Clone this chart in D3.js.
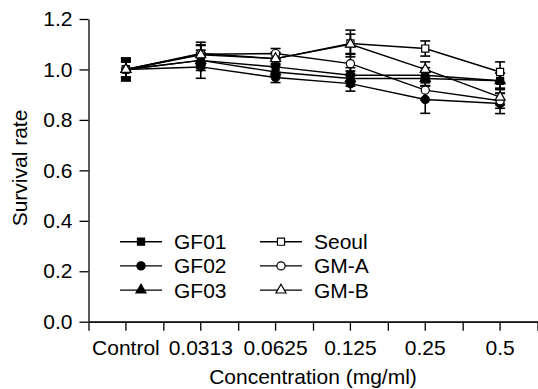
<!DOCTYPE html>
<html>
<head>
<meta charset="utf-8">
<script src="https://cdn.jsdelivr.net/npm/d3@7"></script>
<style>
  body { margin: 0; background: #fff; }
  text { font-family: Arial, "Liberation Sans", sans-serif; fill: #000; }
</style>
</head>
<body>
<div id="chart"></div>
<script>
var width = 538;
var height = 389;

// data
var concentrations = ["Control", "0.0313", "0.0625", "0.125", "0.25", "0.5"];
var seriesNames = ["GF01", "GF02", "GF03", "Seoul", "GM-A", "GM-B"];
var gf01 = [1.00, 1.036, 1.010, 0.977, 0.977, 0.955];
var gf02 = [1.00, 1.010, 0.968, 0.944, 0.881, 0.865];
var gf03 = [1.00, 1.036, 0.990, 0.964, 0.964, 0.955];
var seoul = [1.00, 1.063, 1.043, 1.103, 1.083, 0.990];
var gmA = [1.00, 1.060, 1.063, 1.023, 0.918, 0.876];
var gmB = [1.00, 1.058, 1.043, 1.100, 1.000, 0.890];
var gf01Err = [0.03, 0.04, 0.03, 0.03, 0.03, 0.03];
var gf02Err = [0.045, 0.045, 0.02, 0.03, 0.055, 0.04];
var gf03Err = [0.03, 0.03, 0.02, 0.03, 0.03, 0.03];
var seoulErr = [0.045, 0.045, 0.02, 0.053, 0.03, 0.04];
var gmAErr = [0.04, 0.035, 0.02, 0.04, 0.04, 0.03];
var gmBErr = [0.035, 0.04, 0.025, 0.04, 0.03, 0.03];
var yTicks = [0, 0.2, 0.4, 0.6, 0.8, 1.0, 1.2];

var series = [
  {name: seriesNames[0], values: gf01, err: gf01Err, shape: d3.symbolSquare, fill: "#000"},
  {name: seriesNames[1], values: gf02, err: gf02Err, shape: d3.symbolCircle, fill: "#000"},
  {name: seriesNames[2], values: gf03, err: gf03Err, shape: d3.symbolTriangle, fill: "#000"},
  {name: seriesNames[3], values: seoul, err: seoulErr, shape: d3.symbolSquare, fill: "#fff"},
  {name: seriesNames[4], values: gmA, err: gmAErr, shape: d3.symbolCircle, fill: "#fff"},
  {name: seriesNames[5], values: gmB, err: gmBErr, shape: d3.symbolTriangle, fill: "#fff"}
];

var svg = d3.select("#chart")
  .append("svg")
  .attr("width", width)
  .attr("height", height);

var x = d3.scaleBand()
  .domain(concentrations)
  .range([88.5, 537.5]);

var y = d3.scaleLinear()
  .domain([0, 1.2])
  .range([321.7, 19]);

var cx = function(i) { return x(concentrations[i]) + x.bandwidth() / 2; };

function symbolPath(s) {
  var size = s.shape === d3.symbolSquare ? 50 : (s.shape === d3.symbolCircle ? 52 : 44);
  return d3.symbol().type(s.shape).size(size)();
}

// y axis
var yAxis = svg.append("g")
  .attr("transform", "translate(88.5,0)")
  .call(d3.axisLeft(y).tickValues(yTicks).tickFormat(d3.format(".1f")).tickSize(9).tickPadding(7).tickSizeOuter(0));
yAxis.selectAll("text").style("font-size", "21px");

// x axis: minor ticks at band edges
var edge = d3.scaleLinear().domain([0, concentrations.length]).range(x.range());
svg.append("g")
  .attr("transform", "translate(0,321.7)")
  .call(d3.axisBottom(edge).ticks(concentrations.length).tickFormat("").tickSize(9).tickSizeOuter(0));

var xAxis = svg.append("g")
  .attr("transform", "translate(0,321.7)")
  .call(d3.axisBottom(x).tickSize(9).tickPadding(9).tickSizeOuter(0));
xAxis.selectAll("text").style("font-size", "21px");
svg.selectAll(".domain").attr("stroke-width", 1.3);
svg.selectAll(".tick line").attr("stroke-width", 1.3);

// axis titles
svg.append("text")
  .attr("x", 313)
  .attr("y", 384)
  .attr("text-anchor", "middle")
  .style("font-size", "21px")
  .text("Concentration (mg/ml)");

svg.append("text")
  .attr("transform", "translate(26.5,168) rotate(-90)")
  .attr("text-anchor", "middle")
  .style("font-size", "21px")
  .text("Survival rate");

var plot = svg.append("g");

var line = d3.line()
  .x(function(d, i) { return cx(i); })
  .y(function(d) { return y(d); });

plot.selectAll(".series-line")
  .data(series)
  .enter().append("path")
  .attr("class", "series-line")
  .attr("d", function(s) { return line(s.values); })
  .attr("fill", "none")
  .attr("stroke", "#000")
  .attr("stroke-width", 1.4);

// error bars
series.forEach(function(s) {
  var g = plot.append("g").attr("stroke", "#000").attr("stroke-width", 1.6);
  s.values.forEach(function(v, i) {
    var e = s.err[i];
    g.append("line").attr("x1", cx(i)).attr("x2", cx(i)).attr("y1", y(v - e)).attr("y2", y(v + e));
    g.append("line").attr("x1", cx(i) - 5).attr("x2", cx(i) + 5).attr("y1", y(v - e)).attr("y2", y(v - e));
    g.append("line").attr("x1", cx(i) - 5).attr("x2", cx(i) + 5).attr("y1", y(v + e)).attr("y2", y(v + e));
  });
});

// markers
series.forEach(function(s) {
  plot.append("g").selectAll("path")
    .data(s.values)
    .enter().append("path")
    .attr("transform", function(d, i) { return "translate(" + cx(i) + "," + y(d) + ")"; })
    .attr("d", symbolPath(s))
    .attr("fill", s.fill)
    .attr("stroke", "#000")
    .attr("stroke-width", 1.2);
});

// legend
var legend = svg.append("g");
series.forEach(function(s, k) {
  var col = Math.floor(k / 3);
  var row = k % 3;
  var x0 = col === 0 ? 120 : 260;
  var yy = 241.7 + row * 24.2;
  var item = legend.append("g");
  item.append("line")
    .attr("x1", x0).attr("x2", x0 + 42)
    .attr("y1", yy).attr("y2", yy)
    .attr("stroke", "#000").attr("stroke-width", 1.4);
  item.append("path")
    .attr("transform", "translate(" + (x0 + 21) + "," + yy + ")")
    .attr("d", symbolPath(s))
    .attr("fill", s.fill)
    .attr("stroke", "#000")
    .attr("stroke-width", 1.2);
  item.append("text")
    .attr("x", x0 + 54)
    .attr("y", yy + 7.5)
    .style("font-size", "21px")
    .text(s.name);
});
</script>
</body>
</html>
